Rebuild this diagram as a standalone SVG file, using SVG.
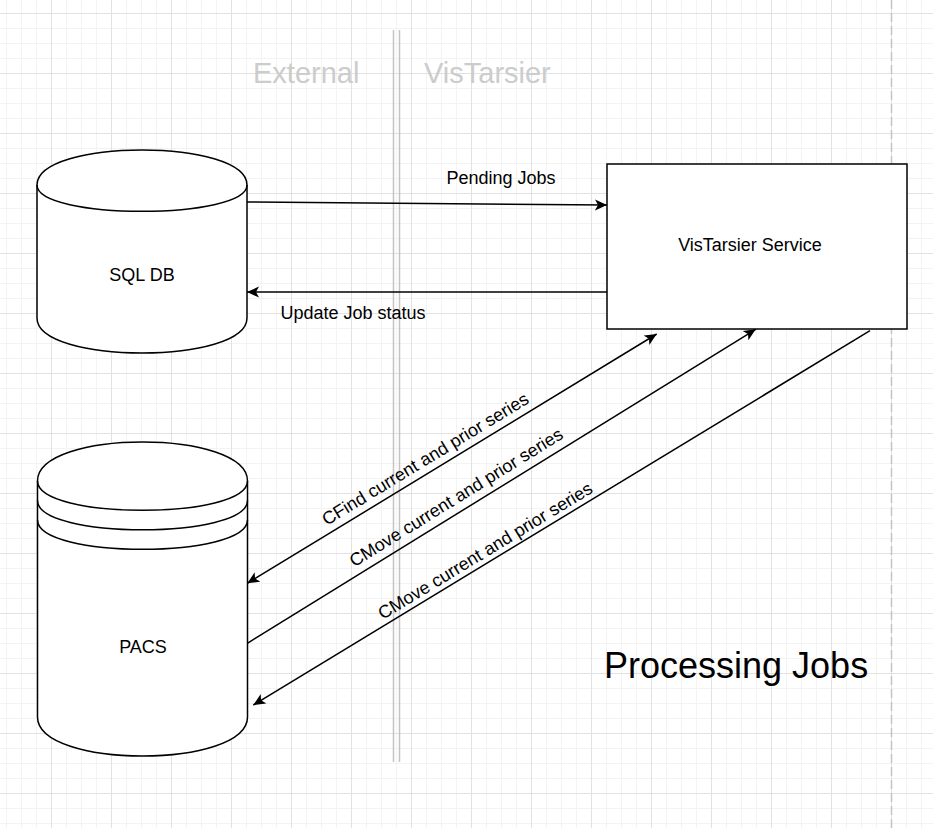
<svg xmlns="http://www.w3.org/2000/svg" width="933" height="828" viewBox="0 0 933 828">
  <defs>
    <pattern id="grid" patternUnits="userSpaceOnUse" x="51" y="13" width="60" height="60">
      <path d="M15.5,0 V60 M30.5,0 V60 M45.5,0 V60 M0,15.5 H60 M0,30.5 H60 M0,45.5 H60" stroke="#f3f3f3" stroke-width="1" fill="none"/>
      <path d="M0.5,0 V60 M0,0.5 H60" stroke="#e2e2e2" stroke-width="1" fill="none"/>
    </pattern>
    <marker id="arrow" markerUnits="userSpaceOnUse" markerWidth="13" markerHeight="12" refX="12" refY="6" orient="auto-start-reverse" viewBox="0 0 13 12">
      <path d="M0,0.5 L12,6 L0,11.5 L3,6 Z" fill="#000"/>
    </marker>
    <style>
      .shape { fill: #ffffff; stroke: #000000; stroke-width: 1.5; }
      .line { fill: none; stroke: #000000; stroke-width: 1.5; }
      .lbl { font-family: "Liberation Sans", Arial, sans-serif; font-size: 18px; fill: #000000; }
      .title { font-family: "Liberation Sans", Arial, sans-serif; font-size: 29px; fill: #cccccc; }
      .big { font-family: "Liberation Sans", Arial, sans-serif; font-size: 36px; fill: #000000; }
      .sep { stroke: #c4c4c4; stroke-width: 1.5; fill: none; }
    </style>
  </defs>

  <rect x="0" y="0" width="933" height="828" fill="#ffffff"/>
  <rect x="0" y="0" width="933" height="828" fill="url(#grid)"/>

  <g id="separators">
    <line class="sep" x1="393.5" y1="30" x2="393.5" y2="762"/>
    <line class="sep" x1="399.5" y1="30" x2="399.5" y2="762"/>
    <line class="sep" x1="891.5" y1="0" x2="891.5" y2="828" stroke-dasharray="9 4"/>
  </g>

  <g id="headers">
    <text class="title" x="253" y="83">External</text>
    <text class="title" x="424" y="83">VisTarsier</text>
  </g>

  <g id="sql-db">
    <path class="shape" d="M37,185 C37,138.3 247,138.3 247,185 L247,318 C247,364.7 37,364.7 37,318 Z"/>
    <path class="line" d="M37,185 C37,220 247,220 247,185"/>
    <text class="lbl" x="142" y="281" text-anchor="middle">SQL DB</text>
  </g>

  <g id="pacs">
    <path class="shape" d="M37.5,481 C37.5,429 247.5,429 247.5,481 L247.5,717 C247.5,769 37.5,769 37.5,717 Z"/>
    <path class="line" d="M37.5,481 C37.5,520 247.5,520 247.5,481 M37.5,500.5 C37.5,539.5 247.5,539.5 247.5,500.5 M37.5,520 C37.5,559 247.5,559 247.5,520"/>
    <text class="lbl" x="143" y="653" text-anchor="middle">PACS</text>
  </g>

  <g id="vistarsier-service">
    <rect class="shape" x="607" y="164" width="300" height="165"/>
    <text class="lbl" x="750" y="251" text-anchor="middle">VisTarsier Service</text>
  </g>

  <g id="connectors">
    <path class="line" d="M247,202 L607,205" marker-end="url(#arrow)"/>
    <path class="line" d="M607,292 L247,292" marker-end="url(#arrow)"/>
    <path class="line" d="M656.7,334 L247.3,583.3" marker-start="url(#arrow)" marker-end="url(#arrow)"/>
    <path class="line" d="M247.3,643.3 L755.7,329.3" marker-end="url(#arrow)"/>
    <path class="line" d="M870,330.7 L253.3,705" marker-end="url(#arrow)"/>
  </g>

  <g id="connector-labels">
    <text class="lbl" x="501" y="184" text-anchor="middle">Pending Jobs</text>
    <text class="lbl" x="353" y="319" text-anchor="middle">Update Job status</text>
    <text class="lbl" transform="translate(425.8,460) rotate(-31.3)" x="0" y="5" text-anchor="middle">CFind current and prior series</text>
    <text class="lbl" transform="translate(456.7,498.3) rotate(-31.7)" x="0" y="5" text-anchor="middle">CMove current and prior series</text>
    <text class="lbl" transform="translate(485.8,551.7) rotate(-31.25)" x="0" y="5" text-anchor="middle">CMove current and prior series</text>
  </g>

  <g id="title">
    <text class="big" x="604" y="678">Processing Jobs</text>
  </g>
</svg>
